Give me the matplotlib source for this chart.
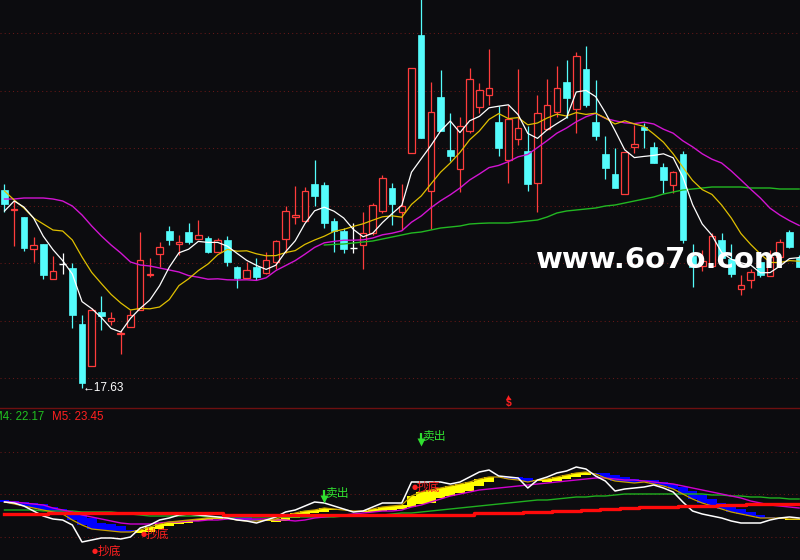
import numpy as np
import matplotlib.pyplot as plt

# daily bars
opens = [27.53, 26.53, 26.18, 24.58, 24.83, 23.08, 23.83, 23.63, 20.83, 18.73,
         21.43, 20.98, 20.33, 20.68, 21.53, 23.28, 24.33, 25.48, 24.83, 25.43,
         25.08, 25.13, 24.43, 25.03, 23.68, 23.13, 23.68, 23.38, 23.93, 25.08,
         26.18, 25.98, 27.83, 27.78, 25.98, 25.48, 24.63, 24.78, 25.38, 26.48,
         27.63, 26.43, 29.38, 35.28, 27.48, 32.18, 29.53, 28.58, 30.48, 31.68,
         32.28, 30.93, 29.03, 30.08, 29.48, 27.88, 30.58, 31.43, 32.93, 31.58,
         33.58, 30.93, 29.33, 28.33, 27.33, 29.68, 30.68, 29.68, 28.68, 27.78,
         29.33, 24.23, 23.73, 23.73, 25.03, 24.08, 22.58, 23.03, 23.93, 23.23,
         24.18, 25.43, 24.13]
highs = [27.83, 26.98, 26.18, 25.18, 24.83, 24.23, 24.38, 23.88, 21.28, 21.63,
         22.23, 21.43, 20.53, 21.53, 25.43, 24.13, 24.93, 25.73, 25.28, 25.88,
         26.03, 25.23, 25.13, 25.23, 23.73, 23.93, 24.13, 24.43, 25.03, 26.73,
         27.73, 27.68, 29.03, 27.93, 26.13, 25.63, 25.88, 26.43, 26.88, 28.28,
         27.88, 27.83, 33.63, 37.23, 32.93, 33.53, 31.38, 31.18, 33.63, 32.88,
         34.58, 31.73, 31.78, 33.58, 30.73, 32.28, 33.08, 33.73, 34.03, 34.43,
         34.73, 33.03, 30.23, 29.63, 29.43, 30.78, 30.88, 29.93, 28.88, 28.48,
         29.48, 24.83, 24.53, 25.38, 25.38, 24.83, 23.28, 23.58, 24.28, 24.53,
         25.08, 25.53, 24.28]
lows = [26.43, 24.73, 24.48, 23.93, 23.08, 23.08, 23.33, 20.63, 17.63, 18.73,
        20.53, 20.78, 19.33, 20.68, 21.53, 23.18, 23.68, 24.78, 24.28, 24.83,
        25.08, 24.38, 24.43, 23.73, 22.63, 23.13, 23.03, 23.33, 23.58, 24.38,
        25.83, 25.98, 26.73, 25.63, 24.43, 24.38, 24.38, 23.58, 25.28, 26.38,
        25.78, 25.53, 29.38, 30.13, 25.58, 30.48, 28.98, 27.43, 30.38, 31.38,
        31.78, 29.23, 27.88, 29.78, 27.48, 26.43, 30.53, 31.18, 31.13, 30.38,
        31.68, 30.03, 28.08, 27.63, 27.33, 29.38, 29.63, 28.88, 27.38, 27.38,
        24.88, 22.68, 23.48, 23.73, 24.13, 23.18, 22.28, 22.63, 23.18, 23.23,
        24.18, 24.63, 23.68]
closes = [26.83, 26.58, 24.63, 24.78, 23.28, 23.48, 23.83, 21.28, 17.88, 21.53,
          21.23, 21.13, 20.38, 21.28, 24.03, 23.33, 24.68, 25.03, 24.93, 24.93,
          25.28, 24.43, 25.03, 23.93, 23.13, 23.53, 23.18, 24.03, 24.98, 26.48,
          26.28, 27.48, 27.23, 25.88, 25.48, 24.58, 24.63, 25.38, 26.78, 28.13,
          26.83, 26.73, 33.63, 30.13, 31.43, 30.48, 29.23, 30.73, 33.08, 32.53,
          32.63, 29.63, 31.08, 30.63, 27.83, 31.38, 31.78, 32.63, 32.13, 34.23,
          31.78, 30.23, 28.63, 27.63, 29.43, 29.83, 30.53, 28.88, 28.03, 28.43,
          25.03, 23.68, 23.98, 25.23, 24.13, 23.33, 22.78, 23.43, 23.28, 24.18,
          24.93, 24.68, 23.68]

# moving averages on the price panel
ma5 = [26.48, 26.98, 26.68, 26.13, 25.22, 24.55, 24.00, 23.33, 21.95, 21.60,
       21.15, 20.61, 20.43, 21.11, 21.61, 22.03, 22.74, 23.67, 24.39, 24.57,
       24.96, 24.91, 24.91, 24.72, 24.36, 24.01, 23.76, 23.56, 23.77, 24.44,
       24.99, 25.85, 26.49, 26.67, 26.47, 26.13, 25.56, 25.19, 25.37, 25.90,
       26.35, 26.77, 28.42, 29.09, 29.75, 30.48, 30.98, 30.40, 30.99, 31.21,
       31.64, 31.72, 31.79, 31.30, 30.36, 30.11, 30.54, 30.85, 31.15, 32.43,
       32.51, 32.20, 31.40, 30.50, 29.54, 29.15, 29.21, 29.26, 29.34, 29.14,
       28.18, 26.81, 25.83, 25.27, 24.41, 24.07, 23.89, 23.78, 23.39, 23.40,
       23.72, 24.10, 24.15]
ma10 = [27.48, 27.03, 26.63, 26.13, 25.83, 25.53, 25.48, 25.03, 24.18, 23.41,
        22.85, 22.31, 21.88, 21.53, 21.61, 21.59, 21.68, 22.05, 22.75, 23.09,
        23.50, 23.83, 24.29, 24.56, 24.47, 24.49, 24.34, 24.24, 24.25, 24.40,
        24.50, 24.81, 25.03, 25.22, 25.46, 25.56, 25.71, 25.84, 26.02, 26.19,
        26.24, 26.17, 26.81, 27.23, 27.83, 28.42, 28.88, 29.41, 30.04, 30.48,
        31.06, 31.35, 31.10, 31.15, 30.79, 30.88, 31.13, 31.32, 31.23, 31.40,
        31.31, 31.37, 31.13, 30.83, 30.99, 30.83, 30.71, 30.33, 29.92, 29.34,
        28.67, 28.01, 27.55, 27.31, 26.78, 26.13, 25.35, 24.81, 24.33, 23.91,
        23.90, 24.00, 23.97]
ma20 = [27.08, 27.08, 27.13, 27.13, 27.13, 27.08, 26.98, 26.73, 26.28, 25.73,
        25.23, 24.78, 24.38, 23.93, 23.78, 23.73, 23.63, 23.53, 23.43, 23.25,
        23.17, 23.07, 23.09, 23.04, 23.03, 23.04, 23.01, 23.14, 23.50, 23.75,
        24.00, 24.32, 24.66, 24.89, 24.96, 25.02, 25.02, 25.04, 25.13, 25.29,
        25.37, 25.49, 25.92, 26.23, 26.64, 26.99, 27.29, 27.63, 28.03, 28.33,
        28.65, 28.76, 28.95, 29.19, 29.31, 29.65, 30.00, 30.37, 30.63, 30.94,
        31.19, 31.36, 31.11, 30.99, 30.89, 30.85, 30.92, 30.83, 30.57, 30.37,
        29.99, 29.69, 29.34, 29.07, 28.88, 28.48, 28.03, 27.57, 27.13, 26.62,
        26.28, 26.00, 25.76]
ma60 = [np.nan] * 33 + [
        24.78, 24.81, 24.83, 24.88, 24.93, 24.98, 25.08, 25.18, 25.28, 25.38,
        25.43, 25.53, 25.63, 25.68, 25.73, 25.83, 25.86, 25.88, 25.88, 25.88,
        25.93, 25.98, 26.03, 26.18, 26.38, 26.48, 26.53, 26.58, 26.63, 26.73,
        26.78, 26.88, 26.98, 27.08, 27.18, 27.33, 27.43, 27.53, 27.58, 27.63,
        27.68, 27.68, 27.68, 27.68, 27.63, 27.63, 27.63, 27.58, 27.58, 27.58]

# lower indicator panel
osc_white = [23.55, 23.50, 23.35, 23.10, 22.85, 22.70, 22.65, 22.40, 21.55, 21.65,
             21.75, 21.75, 21.70, 21.80, 22.25, 22.40, 22.65, 22.75, 22.90, 22.95,
             22.90, 22.85, 22.80, 22.75, 22.65, 22.60, 22.50, 22.65, 22.80, 23.05,
             23.15, 23.35, 23.55, 23.50, 23.35, 23.20, 23.05, 23.10, 23.30, 23.50,
             23.50, 23.50, 24.55, 24.55, 24.55, 24.55, 24.45, 24.55, 24.80, 25.05,
             25.15, 24.85, 24.80, 24.75, 24.25, 24.65, 24.80, 25.00, 25.10, 25.30,
             25.20, 24.85, 24.60, 24.10, 24.20, 24.25, 24.30, 24.40, 24.25, 24.05,
             23.55, 23.10, 22.95, 22.85, 22.75, 22.60, 22.50, 22.50, 22.50, 22.65,
             22.75, 22.80, 22.75]
osc_gold = [23.55, 23.45, 23.35, 23.25, 23.15, 23.05, 22.95, 22.65, 22.40, 22.20,
            22.15, 22.10, 22.05, 22.05, 22.15, 22.30, 22.45, 22.55, 22.60, 22.65,
            22.70, 22.75, 22.75, 22.75, 22.65, 22.60, 22.60, 22.65, 22.70, 22.85,
            23.00, 23.10, 23.15, 23.25, 23.20, 23.15, 23.10, 23.10, 23.20, 23.30,
            23.35, 23.40, 23.85, 24.05, 24.15, 24.25, 24.35, 24.45, 24.55, 24.70,
            24.80, 24.80, 24.70, 24.65, 24.55, 24.65, 24.70, 24.80, 24.90, 25.00,
            25.05, 24.95, 24.75, 24.60, 24.55, 24.50, 24.55, 24.45, 24.35, 24.20,
            23.95, 23.70, 23.50, 23.35, 23.20, 23.05, 22.95, 22.85, 22.75, 22.75,
            22.75, 22.70, 22.70]
osc_lag = [23.65, 23.60, 23.55, 23.50, 23.45, 23.30, 23.20, 23.00, 22.90, 22.75,
           22.50, 22.45, 22.35, 22.15, 22.00, 22.05, 22.20, 22.35, 22.45, 22.50,
           22.60, 22.65, 22.70, 22.80, 22.85, 22.80, 22.70, 22.60, 22.55, 22.60,
           22.75, 22.90, 23.00, 23.05, 23.15, 23.15, 23.10, 23.05, 23.05, 23.10,
           23.15, 23.20, 23.30, 23.45, 23.50, 23.75, 23.85, 24.00, 24.10, 24.35,
           24.55, 24.80, 24.80, 24.80, 24.75, 24.60, 24.55, 24.60, 24.70, 24.80,
           24.90, 25.00, 25.00, 24.90, 24.80, 24.70, 24.65, 24.65, 24.55, 24.45,
           24.30, 24.10, 23.90, 23.70, 23.50, 23.35, 23.20, 23.05, 22.90, 22.80,
           22.70, 22.65, 22.65]
osc_magenta = [23.55, 23.55, 23.50, 23.45, 23.40, 23.25, 23.15, 23.05, 22.90, 22.80,
               22.70, 22.60, 22.50, 22.45, 22.45, 22.45, 22.50, 22.55, 22.55, 22.60,
               22.60, 22.65, 22.65, 22.70, 22.70, 22.70, 22.70, 22.70, 22.65, 22.65,
               22.60, 22.65, 22.75, 22.80, 22.85, 22.90, 22.95, 23.00, 23.05, 23.10,
               23.10, 23.15, 23.30, 23.40, 23.55, 23.70, 23.85, 23.95, 24.05, 24.15,
               24.20, 24.25, 24.30, 24.35, 24.40, 24.45, 24.50, 24.55, 24.60, 24.65,
               24.70, 24.75, 24.75, 24.70, 24.65, 24.65, 24.60, 24.55, 24.50, 24.45,
               24.35, 24.25, 24.15, 24.05, 23.95, 23.85, 23.75, 23.60, 23.50, 23.40,
               23.35, 23.30, 23.25]
osc_green = [23.15, 23.15, 23.15, 23.15, 23.10, 23.10, 23.10, 23.10, 23.05, 23.05,
             23.05, 23.05, 23.00, 22.95, 22.90, 22.85, 22.85, 22.85, 22.85, 22.85,
             22.85, 22.80, 22.80, 22.80, 22.80, 22.80, 22.80, 22.80, 22.80, 22.80,
             22.80, 22.80, 22.80, 22.80, 22.80, 22.85, 22.85, 22.85, 22.90, 22.90,
             22.95, 23.00, 23.00, 23.05, 23.10, 23.15, 23.20, 23.25, 23.30, 23.35,
             23.40, 23.45, 23.50, 23.55, 23.60, 23.65, 23.65, 23.70, 23.75, 23.80,
             23.80, 23.85, 23.85, 23.90, 23.95, 23.95, 23.95, 23.95, 23.95, 23.95,
             23.95, 23.95, 23.95, 23.90, 23.90, 23.85, 23.85, 23.80, 23.80, 23.75,
             23.75, 23.70, 23.70]
osc_red = [22.95, 22.95, 22.95, 22.95, 22.95, 23.00, 23.00, 23.00, 23.00, 23.00,
           23.00, 23.00, 23.00, 23.00, 23.00, 23.00, 23.00, 23.00, 23.00, 23.00,
           23.00, 23.00, 23.00, 22.90, 22.90, 22.90, 22.90, 22.90, 22.90, 22.90,
           22.90, 22.90, 22.90, 22.90, 22.90, 22.90, 22.90, 22.90, 22.90, 22.90,
           22.90, 22.90, 22.90, 22.90, 22.90, 22.90, 22.90, 22.90, 22.90, 23.00,
           23.00, 23.00, 23.00, 23.00, 23.05, 23.05, 23.05, 23.10, 23.10, 23.10,
           23.15, 23.15, 23.20, 23.20, 23.25, 23.25, 23.30, 23.30, 23.30, 23.30,
           23.35, 23.35, 23.35, 23.35, 23.40, 23.40, 23.40, 23.45, 23.45, 23.45,
           23.45, 23.45, 23.45]

# signals
buy_idx = [9, 14, 42]
buy_val = [21.10, 21.95, 24.30]
sell_idx = [33, 43]
sell_val = [23.68, 26.53]
low_idx, low_val = 8, 17.63
flag_idx = 52
m4_text, m5_text = "M4: 22.17", "M5: 23.45"

BG = "#0c0c0f"
UP = "#ff3c3c"
DOWN = "#54fcfc"
GRID = "#661818"
NUM_FONT = ["Liberation Sans", "DejaVu Sans"]
CJK_FONT = ["Noto Sans CJK SC", "DejaVu Sans"]

fig = plt.figure(figsize=(8, 5.6), dpi=100, facecolor=BG)
ax = fig.add_axes([0, 152 / 560, 1, 408 / 560], facecolor=BG)
ax2 = fig.add_axes([0, 0, 1, 152 / 560], facecolor=BG)

for a in (ax, ax2):
    a.set_xticks([])
    a.set_yticks([])
    for s in a.spines.values():
        s.set_visible(False)
    a.set_xlim(-0.464, 82.09)
ax.set_ylim(16.63, 37.03)
ax2.set_ylim(20.65, 28.25)
ax2.spines["top"].set_visible(True)
ax2.spines["top"].set_color("#6e1010")
ax2.spines["top"].set_linewidth(1.0)

# dotted grid
for lvl in np.linspace(18.125, 35.365, 7):
    ax.axhline(lvl, color=GRID, lw=0.75, ls=(0, (1, 3)), zorder=0)
for lvl in (21.80, 23.95, 26.05):
    ax2.axhline(lvl, color=GRID, lw=0.75, ls=(0, (1, 3)), zorder=0)

# candles
o = np.array(opens)
h = np.array(highs)
l = np.array(lows)
c = np.array(closes)
x = np.arange(len(c))
up = c > o
dn = c < o
flat = c == o
wick_colors = np.where(up, UP, np.where(dn, DOWN, "white"))
ax.vlines(x, l, h, colors=wick_colors, lw=0.9, zorder=2)
ax.bar(x[up], (c - o)[up], bottom=o[up], width=0.68,
       facecolor=BG, edgecolor=UP, linewidth=0.9, zorder=3)
ax.bar(x[dn], (o - c)[dn], bottom=c[dn], width=0.68,
       color=DOWN, edgecolor=DOWN, linewidth=0.5, zorder=3)
ax.hlines(c[flat], x[flat] - 0.34, x[flat] + 0.34, colors="white", lw=1.0, zorder=3)

# moving averages
ax.plot(x, ma60, color="#22b822", lw=1.0, zorder=4)
ax.plot(x, ma20, color="#d214d2", lw=1.0, zorder=4)
ax.plot(x, ma10, color="#e0c000", lw=0.9, zorder=4)
ax.plot(x, ma5, color="white", lw=0.9, zorder=5)

ax.annotate("\u219017.63", xy=(low_idx, low_val), xytext=(0.3, 0),
            textcoords="offset points", ha="left", va="center",
            color="white", fontsize=8.5, family=NUM_FONT, zorder=6)

# marker at the panel border
ax.plot([flag_idx], [17.16], marker="^", ms=3.5, color="#ff2020",
        mec="none", zorder=6, clip_on=False)
ax.text(flag_idx, 16.88, "$", color="#ff2020", fontsize=7.5, fontweight="bold",
        ha="center", va="center", family=NUM_FONT, zorder=6)

ax.text(0.826, 0.343, "www.6o7o.com", transform=ax.transAxes, ha="center",
        va="baseline", color="white", fontsize=21, fontweight="bold",
        family="DejaVu Sans", zorder=10)

# lower panel: ribbon between gold line and its lag
g = np.array(osc_gold)
lag = np.array(osc_lag)
band_colors = np.where(g >= lag, "#ffff00", "#0000ff")
ax2.bar(x, np.abs(g - lag), bottom=np.minimum(g, lag), width=1.0,
        color=band_colors, linewidth=0, zorder=1)
ax2.plot(x, osc_green, color="#20b020", lw=1.0, zorder=2)
ax2.plot(x, osc_magenta, color="#d000d0", lw=1.0, zorder=3)
ax2.plot(x, osc_gold, color="#c8a000", lw=0.9, zorder=4)
ax2.plot(x, osc_white, color="white", lw=1.1, zorder=5)
ax2.step(x, osc_red, where="mid", color="#ff0a0a", lw=2.4, zorder=6)

for i, v in zip(buy_idx, buy_val):
    ax2.annotate("\u25cf", xy=(i, v), xytext=(2.4, 0), textcoords="offset points",
                 ha="center", va="center", color="#ff2020", fontsize=5,
                 family=["DejaVu Sans"], zorder=7)
    ax2.annotate("抄底", xy=(i, v), xytext=(4.0, 0), textcoords="offset points",
                 ha="left", va="center", color="#ff2020", fontsize=8.5,
                 family=CJK_FONT, zorder=7)

for i, v in zip(sell_idx, sell_val):
    ax2.vlines(i, v, v + 0.45, colors="#30e030", lw=1.6, zorder=7)
    ax2.plot([i], [v], marker="v", ms=6, color="#30e030", mec="none", zorder=7)
    ax2.annotate("卖出", xy=(i, v), xytext=(0.6, 4.6), textcoords="offset points",
                 ha="left", va="center", color="#30e030", fontsize=8.5,
                 family=CJK_FONT, zorder=7)

# the first label runs off the left edge, as in the original
ax2.text(-7 / 800, 0.941, m4_text, transform=ax2.transAxes, ha="left",
         va="center", color="#20c020", fontsize=8.3, family=NUM_FONT)
ax2.text(52 / 800, 0.941, m5_text, transform=ax2.transAxes, ha="left",
         va="center", color="#ff2020", fontsize=8.3, family=NUM_FONT)

fig.savefig("out.png", dpi=100, facecolor=BG)
